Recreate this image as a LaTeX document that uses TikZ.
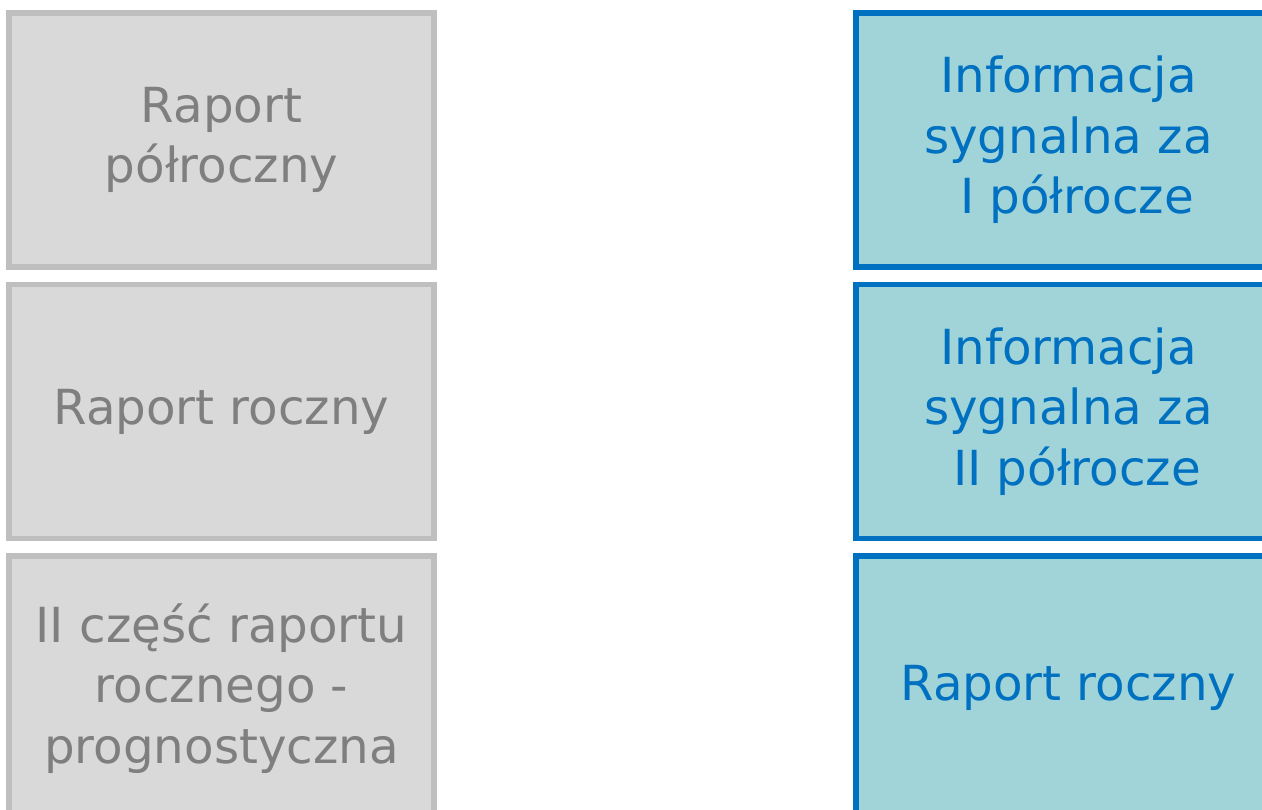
\documentclass[tikz,border=0pt]{standalone}
\usepackage{fontspec}
\setmainfont{DejaVu Sans}
\usetikzlibrary{positioning}
\definecolor{grayline}{HTML}{BFBFBF}
\definecolor{grayfill}{HTML}{D9D9D9}
\definecolor{graytext}{HTML}{7F7F7F}
\definecolor{blueline}{HTML}{0070C0}
\definecolor{bluefill}{HTML}{A1D4D8}
\begin{document}
\begin{tikzpicture}[
x=0.02cm, y=-0.02cm,
every node/.style = {shape=rectangle, align=center, line width=0.11cm,
  minimum width=8.5cm, minimum height=5.08cm, inner sep=0pt,
  font=\fontsize{27.5}{34.5}\selectfont},
leftbox/.style = {draw=grayline, fill=grayfill, text=graytext},
rightbox/.style = {draw=blueline, fill=bluefill, text=blueline},
node distance=0.24cm,
]
  \useasboundingbox (0,0) rectangle (1262,809);
  \clip (0,0) rectangle (1262,809);
  % reports
  \node[leftbox] (halfyear) at (221.5,140) {Raport\\półroczny};
  \node[leftbox, below=of halfyear] (annual) {Raport roczny};
  \node[leftbox, below=of annual, minimum height=5.3cm] (forecast) {II część raportu\\rocznego -\\prognostyczna};
  % signal information
  \node[rightbox] (firsthalf) at (1068.5,140) {Informacja\\sygnalna za\\\hspace*{.35em}I półrocze};
  \node[rightbox, below=of firsthalf] (secondhalf) {Informacja\\sygnalna za\\\hspace*{.35em}II półrocze};
  \node[rightbox, below=of secondhalf, minimum height=5.3cm] (annualright) {Raport roczny};
\end{tikzpicture}
\end{document}
